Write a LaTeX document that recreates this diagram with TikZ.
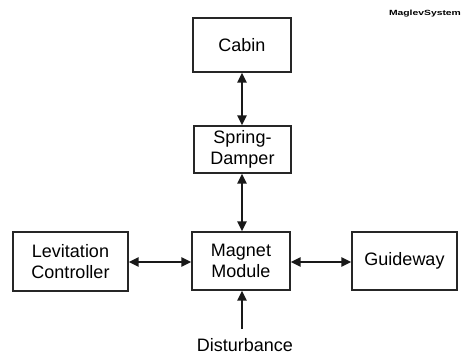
\documentclass[tikz,border=0pt]{standalone}
\usepackage{fontspec}
\setmainfont{Liberation Sans}
\usetikzlibrary{arrows.meta}
\begin{document}
\begin{tikzpicture}[x=1pt,y=-1pt,
  blk/.style={draw=black!85,line width=1.2pt,minimum width=#1,inner sep=0pt,align=center,font=\fontsize{18}{21}\selectfont},
  link/.style={line width=2.5pt,black!90,{Triangle[length=10pt,width=9pt]}-{Triangle[length=10pt,width=9pt]}},
  onelink/.style={line width=2.5pt,black!90,-{Triangle[length=10pt,width=9pt]}}]
\useasboundingbox (0,0) rectangle (467,359);
\node[blk=98pt,minimum height=54pt] (cabin) at (242,45) {Cabin};
\node[blk=97pt,minimum height=47pt] (spring) at (242.5,149.5) {Spring-\\Damper};
\node[blk=115pt,minimum height=59pt] (lev) at (70.5,261.5) {Levitation\\Controller};
\node[blk=98pt,minimum height=58pt] (mag) at (241,261) {Magnet\\Module};
\node[blk=105pt,minimum height=58pt] (guide) at (404.5,261) {Guideway};
\node[font=\fontsize{18}{21}\selectfont,inner sep=0pt] (dist) at (245,345) {Disturbance};
\coordinate (dtop) at (242,329);
\node[font=\bfseries\fontsize{7.5}{8}\selectfont,xscale=1.38,inner sep=0pt] (title) at (425,14) {MaglevSystem};
\draw[link] (cabin.south -| 242,0) -- (spring.north -| 242,0);
\draw[link] (spring.south -| 242,0) -- (mag.north -| 242,0);
\draw[link] (lev.east |- 0,262) -- (mag.west |- 0,262);
\draw[link] (mag.east |- 0,262) -- (guide.west |- 0,262);
\draw[onelink] (dtop) -- (mag.south -| dtop);
\end{tikzpicture}
\end{document}
